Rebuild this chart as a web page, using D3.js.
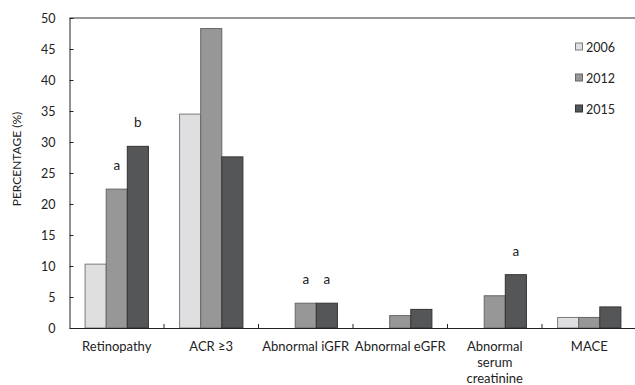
<!DOCTYPE html>
<html>
<head>
<meta charset="utf-8">
<script src="https://cdn.jsdelivr.net/npm/d3@7"></script>
<style>
  html, body { margin: 0; padding: 0; background: #fff; }
  svg { display: block; font-family: Lato, "Open Sans", sans-serif; }
</style>
</head>
<body>
<svg id="chart" width="635" height="385"></svg>
<script>
const categories = ["Retinopathy", "ACR \u22653", "Abnormal iGFR", "Abnormal eGFR", "Abnormal serum creatinine", "MACE"];
const categoryLines = [["Retinopathy"], ["ACR \u22653"], ["Abnormal iGFR"], ["Abnormal eGFR"], ["Abnormal", "serum", "creatinine"], ["MACE"]];
const seriesNames = ["2006", "2012", "2015"];
const values2006 = [10.3, 34.5, 0, 0, 0, 1.7];
const values2012 = [22.4, 48.3, 4.0, 2.0, 5.2, 1.7];
const values2015 = [29.3, 27.6, 4.0, 3.0, 8.6, 3.4];
const annotations2012 = ["a", "", "a", "", "", ""];
const annotations2015 = ["b", "", "a", "", "a", ""];
const yTicks = [0, 5, 10, 15, 20, 25, 30, 35, 40, 45, 50];
const yLabel = "PERCENTAGE (%)";

const fills = ["#dfdfe1", "#979797", "#555658"];
const strokes = ["#7c7c7c", "#666666", "#333333"];

const svg = d3.select("#chart");
const margin = { left: 69.5, top: 18, right: 636.5, bottom: 328 };

const x = d3.scaleBand().domain(categories).range([margin.left, margin.right]).paddingInner(0).paddingOuter(0);
const xs = d3.scaleBand().domain(seriesNames).range([0, 63.3]);
const y = d3.scaleLinear().domain([0, 50]).range([margin.bottom, margin.top]);

const seriesData = [values2006, values2012, values2015];
const annots = [null, annotations2012, annotations2015];

// bars
seriesNames.forEach((s, si) => {
  const g = svg.append("g");
  categories.forEach((c, ci) => {
    const v = seriesData[si][ci];
    if (v <= 0) return;
    const bx = x(c) + (x.bandwidth() - 63.3) / 2 + xs(s);
    g.append("rect")
      .attr("x", bx)
      .attr("y", y(v))
      .attr("width", xs.bandwidth())
      .attr("height", y(0) - y(v))
      .attr("fill", fills[si])
      .attr("stroke", strokes[si])
      .attr("stroke-width", 1);
    if (annots[si] && annots[si][ci]) {
      svg.append("text")
        .attr("x", bx + xs.bandwidth() / 2)
        .attr("y", y(v) - 19)
        .attr("text-anchor", "middle")
        .attr("font-size", 13.5)
        .attr("fill", "#222")
        .text(annots[si][ci]);
    }
  });
});

// top border
svg.append("line")
  .attr("x1", margin.left).attr("x2", 635)
  .attr("y1", y(50)).attr("y2", y(50))
  .attr("stroke", "#333").attr("stroke-width", 1);

// y axis
const yAxis = svg.append("g")
  .attr("transform", `translate(${margin.left},0)`)
  .call(d3.axisLeft(y).tickValues(yTicks).tickSizeInner(-4).tickSizeOuter(0).tickPadding(14));
yAxis.select(".domain").attr("stroke", "#222");
yAxis.selectAll(".tick line").attr("stroke", "#222");
yAxis.selectAll(".tick text").attr("font-size", 12.5).attr("fill", "#222").attr("font-family", "Lato, sans-serif");

// x axis
const xAxis = svg.append("g")
  .attr("transform", `translate(0,${margin.bottom})`)
  .call(d3.axisBottom(x).tickSize(0).tickFormat(""));
xAxis.select(".domain").attr("stroke", "#222").attr("stroke-width", 1.2);
// boundary ticks (inside, between groups)
svg.append("g").selectAll("line")
  .data(categories.slice(1))
  .join("line")
  .attr("x1", d => x(d)).attr("x2", d => x(d))
  .attr("y1", margin.bottom).attr("y2", margin.bottom - 4)
  .attr("stroke", "#222");

// x labels
categories.forEach((c, ci) => {
  const t = svg.append("text")
    .attr("x", x(c) + x.bandwidth() / 2)
    .attr("y", 351)
    .attr("text-anchor", "middle")
    .attr("font-size", 13)
    .attr("fill", "#222");
  categoryLines[ci].forEach((line, li) => {
    t.append("tspan").attr("x", x(c) + x.bandwidth() / 2).attr("dy", li === 0 ? 0 : 16).text(line);
  });
});

// y label
svg.append("text")
  .attr("transform", `translate(21,159) rotate(-90)`)
  .attr("text-anchor", "middle")
  .attr("font-size", 12)
  .attr("fill", "#222")
  .text(yLabel);

// legend
seriesNames.forEach((s, si) => {
  const cy = 47 + si * 31;
  svg.append("rect")
    .attr("x", 575.5).attr("y", cy - 4)
    .attr("width", 7).attr("height", 7)
    .attr("fill", fills[si]).attr("stroke", strokes[si]);
  svg.append("text")
    .attr("x", 586).attr("y", cy + 4.5)
    .attr("font-size", 12.5)
    .attr("fill", "#222")
    .text(s);
});
</script>
</body>
</html>
